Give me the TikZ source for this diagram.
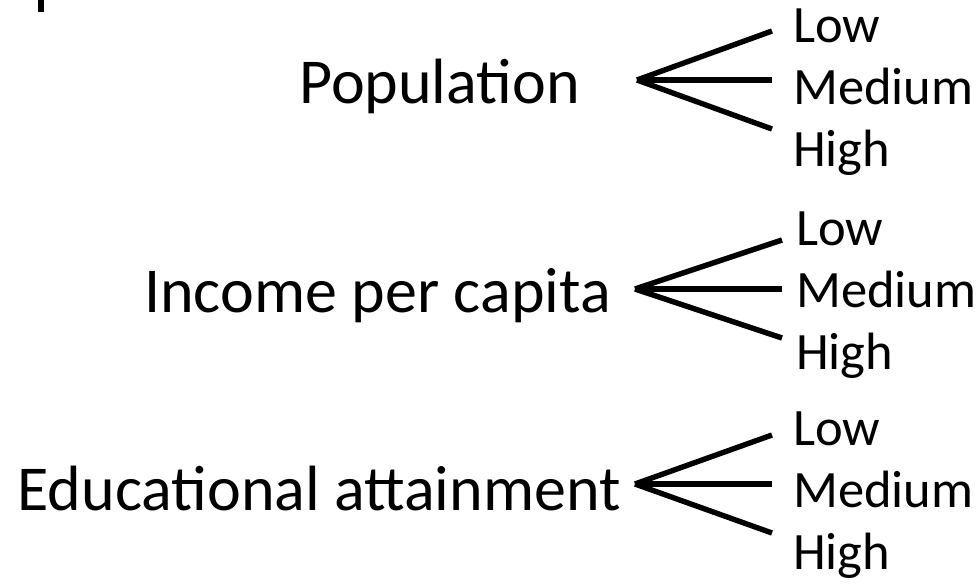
\documentclass[tikz,border=0pt]{standalone}
\usepackage{fontspec}
\setmainfont{Carlito}
\usepackage{tikz}
\tikzset{
  factor/.style={font=\fontsize{64}{72}\selectfont,inner sep=0pt,anchor=base east}, % variable name
  level/.style={font=\fontsize{52.5}{60}\selectfont,inner sep=0pt,anchor=base west},  % Low/Medium/High
  branch/.style={line width=5.4pt},
}

\begin{document}
\begin{tikzpicture}[x=1pt,y=-1pt]
  \useasboundingbox (0,0) rectangle (980,584);
  \fill (38,0) rectangle (44,12);
  % name/text/text x/baseline/fork x/fork y/tip x/level x/first baseline
  \foreach \g/\txt/\tx/\ty/\vx/\vy/\ex/\lx/\ly in {
      pop/Population/580/103/637/80/772/793/42,
      inc/Income per capita/611/312/635/289/782/796/245,
      edu/Educational attainment/621/510/635/484/772/793/445} {
    \node[factor] (\g) at (\tx,\ty) {\txt};
    \coordinate (\g-v) at (\vx,\vy);
    \foreach \k/\t [count=\i] in {low/Low,med/Medium,high/High} {
      \node[level] (\g-\k) at (\lx,{\ly+62*(\i-1)}) {\t};
      \coordinate (\g-e\i) at (\ex,{\vy+49*(\i-2)});
      \draw[branch] (\g-v) -- (\g-e\i);
    }
  }
\end{tikzpicture}
\end{document}
